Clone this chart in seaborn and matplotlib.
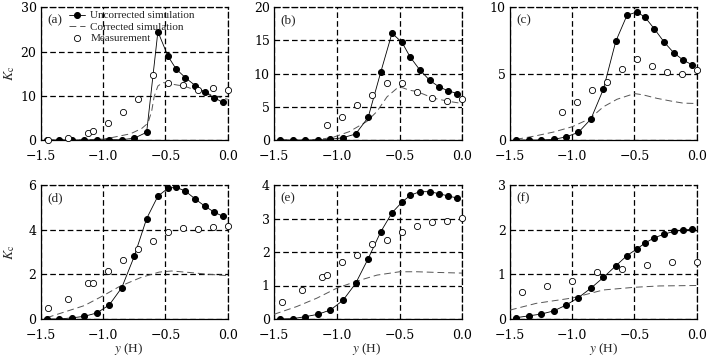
import numpy as np
import pandas as pd
import matplotlib
matplotlib.use("Agg")
import matplotlib.pyplot as plt
import seaborn as sns

sns.set_theme(style="ticks")
plt.rcParams["font.family"] = ["Liberation Serif", "DejaVu Serif"]
plt.rcParams["mathtext.fontset"] = "stix"
plt.rcParams["axes.unicode_minus"] = True

# ---------------- data ----------------
panel_labels = ["(a)", "(b)", "(c)", "(d)", "(e)", "(f)"]
x_ticks = [-1.5, -1.0, -0.5, 0.0]

# uncorrected simulation (filled circles)
x_sim = [-1.45, -1.35, -1.25, -1.15, -1.05, -0.95, -0.85, -0.75, -0.65,
         -0.56, -0.48, -0.415, -0.34, -0.26, -0.185, -0.11, -0.04]
sim_a = [0, 0, 0, 0, 0, 0.07, 0.07, 0.4, 1.75, 24.5, 19.0, 16.1, 14.1, 12.3, 10.8, 9.6, 8.5]
sim_b = [0, 0, 0, 0, 0.1, 0.35, 0.9, 3.4, 10.2, 16.1, 14.7, 12.5, 10.6, 9.0, 8.0, 7.4, 7.0]
sim_c = [0, 0, 0, 0.05, 0.23, 0.58, 1.58, 3.82, 7.44, 9.4, 9.65, 9.25, 8.37, 7.36, 6.58, 6.03, 5.68]
sim_d = [0, 0, 0.05, 0.12, 0.27, 0.63, 1.4, 2.8, 4.5, 5.5, 5.85, 5.9, 5.73, 5.37, 5.06, 4.79, 4.6]
sim_e = [0, 0.01, 0.07, 0.14, 0.27, 0.56, 1.06, 1.8, 2.6, 3.17, 3.49, 3.69, 3.8, 3.8, 3.74, 3.67, 3.61]
sim_f = [0.03, 0.07, 0.11, 0.18, 0.31, 0.48, 0.69, 0.93, 1.19, 1.42, 1.57, 1.70, 1.82, 1.90, 1.96, 1.99, 2.01]

# corrected simulation (dashed line)
xc_a = [-1.45, -1.2, -1.0, -0.92, -0.85, -0.78, -0.69, -0.64, -0.61, -0.59, -0.56,
        -0.52, -0.46, -0.4, -0.35, -0.28, -0.2, -0.1, 0.0]
yc_a = [0, 0, 0.2, 0.6, 1.0, 1.4, 2.6, 3.8, 6.5, 9.8, 12.2, 13.0, 12.7, 12.4, 12.2,
        11.5, 10.9, 9.9, 9.2]
xc_b = [-1.45, -1.2, -1.1, -1.03, -0.9, -0.76, -0.68, -0.6, -0.52, -0.48, -0.42,
        -0.36, -0.23, -0.1, 0.0]
yc_b = [0, 0.05, 0.2, 0.4, 1.26, 2.8, 4.3, 6.5, 7.8, 7.9, 7.5, 7.3, 6.3, 5.8, 5.5]
xc_c = [-1.45, -1.3, -1.15, -1.0, -0.86, -0.75, -0.64, -0.5, -0.43, -0.32, -0.21, -0.11, 0.0]
yc_c = [0.05, 0.3, 0.6, 1.0, 1.6, 2.5, 3.07, 3.5, 3.4, 3.14, 2.94, 2.78, 2.75]
xc_d = [-1.45, -1.3, -1.15, -1.0, -0.87, -0.7, -0.55, -0.45, -0.3, -0.15, 0.0]
yc_d = [0.06, 0.33, 0.6, 1.04, 1.45, 1.85, 2.1, 2.15, 2.08, 2.0, 1.94]
xc_e = [-1.5, -1.32, -1.16, -1.0, -0.84, -0.68, -0.5, -0.36, -0.2, 0.0]
yc_e = [0.14, 0.37, 0.62, 0.92, 1.13, 1.31, 1.41, 1.41, 1.39, 1.37]
xc_f = [-1.5, -1.29, -1.0, -0.75, -0.5, -0.3, 0.0]
yc_f = [0.2, 0.35, 0.47, 0.65, 0.71, 0.74, 0.75]

# measurement (open circles)
xm_full = [-1.44, -1.28, -1.12, -1.08, -0.96, -0.84, -0.72, -0.60, -0.48, -0.36, -0.24, -0.12, 0.0]
xm_part = [-1.08, -0.96, -0.84, -0.72, -0.60, -0.48, -0.36, -0.24, -0.12, 0.0]
xm_f = [-1.40, -1.20, -1.00, -0.80, -0.60, -0.40, -0.20, 0.0]
meas_a = [0, 0.4, 1.5, 2.0, 3.9, 6.3, 9.2, 14.6, 12.8, 12.5, 11.4, 11.8, 11.3]
meas_b = [2.3, 3.4, 5.2, 6.8, 8.6, 8.6, 7.2, 6.4, 5.9, 6.2]
meas_c = [2.09, 2.84, 3.74, 4.37, 5.33, 6.08, 5.58, 5.15, 4.97, 5.3]
meas_d = [0.51, 0.91, 1.63, 1.63, 2.13, 2.63, 3.15, 3.5, 3.91, 4.06, 4.01, 4.1, 4.16]
meas_e = [0.52, 0.88, 1.26, 1.30, 1.69, 1.91, 2.25, 2.36, 2.59, 2.78, 2.9, 2.93, 3.02]
meas_f = [0.6, 0.74, 0.84, 1.05, 1.13, 1.2, 1.27, 1.28]

yticks_a = [0, 10, 20, 30]
yticks_b = [0, 5, 10, 15, 20]
yticks_c = [0, 5, 10]
yticks_d = [0, 2, 4, 6]
yticks_e = [0, 1, 2, 3, 4]
yticks_f = [0, 1, 2, 3]

panels = [
    (sim_a, xc_a, yc_a, xm_full, meas_a, yticks_a),
    (sim_b, xc_b, yc_b, xm_part, meas_b, yticks_b),
    (sim_c, xc_c, yc_c, xm_part, meas_c, yticks_c),
    (sim_d, xc_d, yc_d, xm_full, meas_d, yticks_d),
    (sim_e, xc_e, yc_e, xm_full, meas_e, yticks_e),
    (sim_f, xc_f, yc_f, xm_f, meas_f, yticks_f),
]

# ---------------- layout ----------------
W, H = 709, 359
fig = plt.figure(figsize=(W / 100, H / 100), dpi=100)
lefts = [40.7, 274.0, 510.0]
rights = [227.7, 462.3, 696.7]
rows = [(7.3, 140.0), (185.0, 319.0)]
xlabel_x = [0.47, 0.49, 0.5]

for i, (sim, xc, yc, xm, meas, yt) in enumerate(panels):
    r, c = divmod(i, 3)
    top, bot = rows[r]
    ax = fig.add_axes([lefts[c] / W, 1 - bot / H, (rights[c] - lefts[c]) / W, (bot - top) / H])
    first = i == 0
    sns.lineplot(x=x_sim, y=sim, ax=ax, color="black", lw=0.6, marker="o",
                 markersize=4.3, markeredgecolor="black", markerfacecolor="black",
                 sort=False, estimator=None, label="Uncorrected simulation" if first else None,
                 legend=False, zorder=4)
    sns.lineplot(x=xc, y=yc, ax=ax, color="#555555", lw=0.7, sort=False, estimator=None,
                 dashes=False, label="Corrected simulation" if first else None,
                 legend=False, zorder=3)
    ax.lines[-1].set_linestyle((0, (7, 4)))
    sns.scatterplot(x=xm, y=meas, ax=ax, s=20, facecolor="white", edgecolor="black",
                    linewidth=0.6, label="Measurement" if first else None,
                    legend=False, zorder=5, clip_on=False)
    ax.set_xlim(-1.5, 0.0)
    ax.set_ylim(yt[0], yt[-1])
    ax.set_xticks(x_ticks)
    ax.set_xticklabels([f"{v:.1f}".replace("-", "\u2212") for v in x_ticks])
    ax.set_yticks(yt)
    ax.set_yticklabels([str(v) for v in yt])
    for lab in ax.get_xticklabels() + ax.get_yticklabels():
        lab.set_fontfamily("DejaVu Serif")
        lab.set_fontsize(9)
    ax.tick_params(axis="both", length=0, colors="black")
    ax.tick_params(axis="x", pad=7.5)
    ax.tick_params(axis="y", pad=3)
    ax.grid(True, color="black", linestyle="--", linewidth=0.9, dashes=(4.5, 2.5))
    ax.set_axisbelow(True)
    for sp in ["top", "right"]:
        ax.spines[sp].set_linestyle((0, (4.5, 2.5)))
    for sp in ax.spines.values():
        sp.set_color("black")
        sp.set_linewidth(0.9)
    ax.text(0.034, 0.9, panel_labels[i], transform=ax.transAxes, fontsize=9.5,
            ha="left", va="center", zorder=6)
    ax.set_xlabel("")
    ax.set_ylabel("")
    if c == 0:
        ax.set_ylabel(r"$K_{\rm c}$", fontsize=10)
        ax.yaxis.set_label_coords(-0.127, 0.5)
    if r == 1:
        ax.set_xlabel(r"$y$ (H)", fontsize=9.5)
        ax.xaxis.set_label_coords(xlabel_x[c], -0.165)
    if first:
        ax.legend(loc="upper left", bbox_to_anchor=(0.15, 0.975), frameon=False,
                  fontsize=8, handlelength=1.5, handletextpad=0.45, numpoints=1,
                  labelspacing=0.12, borderpad=0.0, borderaxespad=0.0)

fig.savefig("out.png", dpi=100)
